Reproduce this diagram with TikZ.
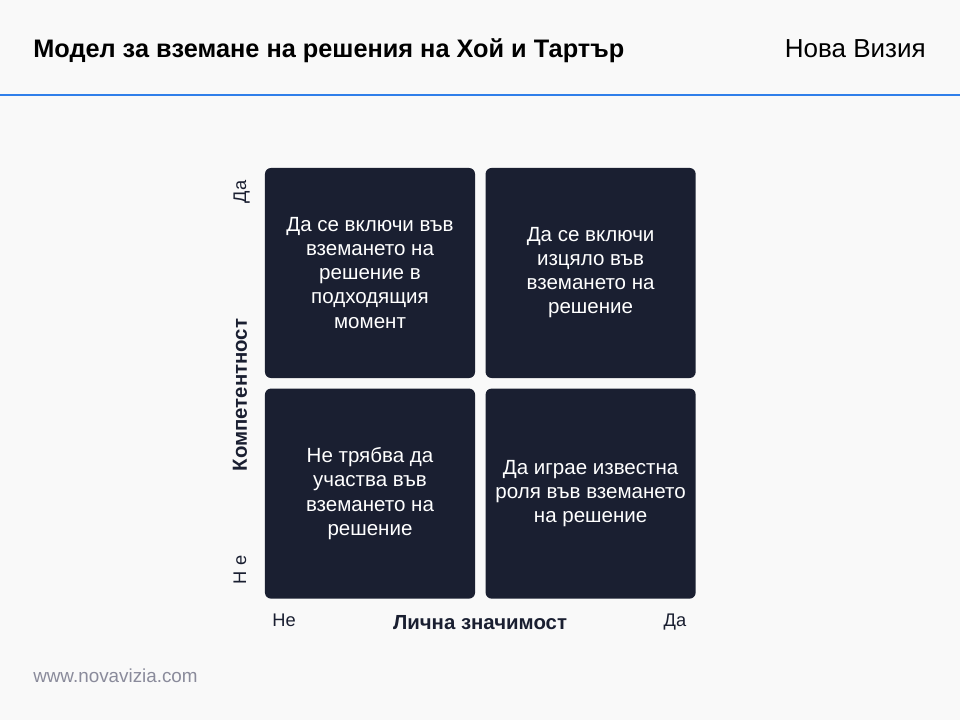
\documentclass[tikz,border=0pt]{standalone}
\usepackage{fontspec}
\setmainfont{Liberation Sans}
\usetikzlibrary{positioning}
\definecolor{paper}{HTML}{F9F9F9}
\definecolor{cellfill}{HTML}{1A1F31}
\definecolor{rulecol}{HTML}{2F7FEA}
\definecolor{footcol}{HTML}{8A8B9B}
\definecolor{axiscol}{HTML}{1A1F31}

\begin{document}
\begin{tikzpicture}[x=0.025cm,y=0.025cm,
	cell/.style={fill=cellfill, rounded corners=0.15cm, minimum width=5.25cm, minimum height=5.25cm,
		align=center, text=white, inner sep=0pt, font=\fontsize{14.6}{17.1}\selectfont},
	axisname/.style={text=axiscol, inner sep=0pt, font=\bfseries\fontsize{14.5}{16}\selectfont},
	axisend/.style={text=axiscol, inner sep=0pt, font=\fontsize{13}{15}\selectfont}]
	\fill [paper] (0,0) rectangle (960,720);
	\useasboundingbox (0,0) rectangle (960,720);
	\draw [rulecol, line width=1.5pt] (0,625) -- (960,625);
	\node [anchor=base west, inner sep=0pt, font=\bfseries\fontsize{18}{20}\selectfont] (title) at (33,662) {Модел за вземане на решения на Хой и Тартър};
	\node [anchor=base east, inner sep=0pt, font=\fontsize{18.5}{20}\selectfont] (brand) at (926,662) {Нова Визия};

	\node [cell] (TL) at (370,447) {Да се включи във\\вземането на\\решение в\\подходящия\\момент};
	\node [cell, right=0.25cm of TL] (TR) {Да се включи\\изцяло във\\вземането на\\решение};
	\node [cell, below=0.25cm of TL] (BL) {Не трябва да\\участва във\\вземането на\\решение};
	\node [cell, below=0.25cm of TR] (BR) {Да играе известна\\роля във вземането\\на решение};

	\node [axisname, rotate=90] (comp) at (240,325) {Компетентност};
	\node [axisend, rotate=90, anchor=base] (compyes) at (246,528) {Да};
	\node [axisend, rotate=90, anchor=base] (compno) at (246,150) {Н е};
	\node [axisname, anchor=base] (pers) at (480,90) {Лична значимост};
	\node [axisend, anchor=base] (persno) at (284,93) {Не};
	\node [axisend, anchor=base] (persyes) at (675,93) {Да};

	\node [anchor=base west, inner sep=0pt, text=footcol, font=\fontsize{13.4}{15}\selectfont] (site) at (33,37) {www.novavizia.com};
\end{tikzpicture}
\end{document}
